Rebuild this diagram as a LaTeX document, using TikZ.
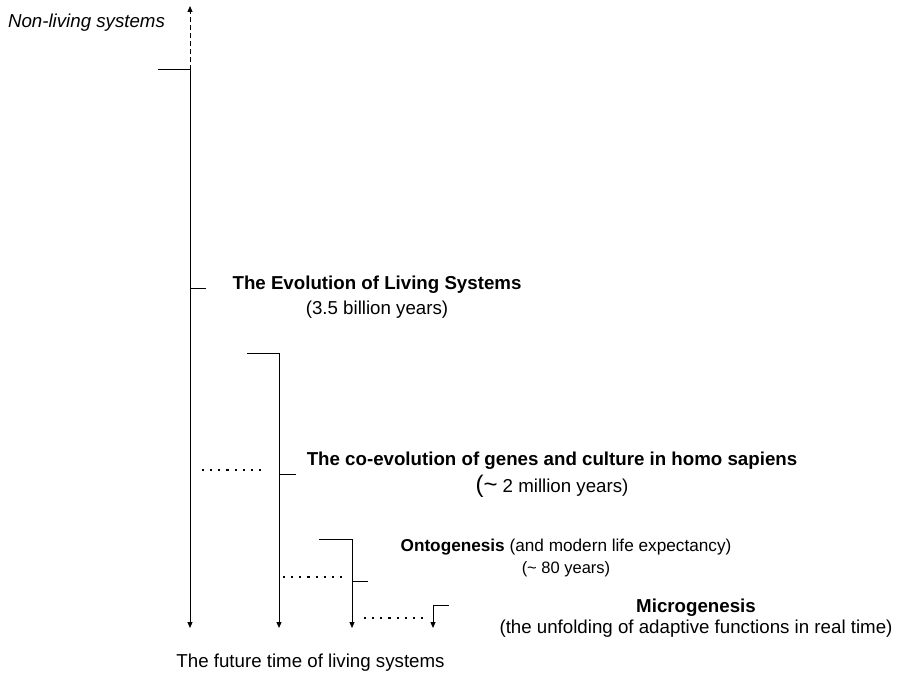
\documentclass[tikz,border=0pt]{standalone}
\usepackage{fontspec}
\setmainfont{Liberation Sans}
\usetikzlibrary{arrows.meta}

\begin{document}
\begin{tikzpicture}[x=1pt,y=-1pt,
  line width=1pt,
  txt/.style={align=center,inner sep=0pt,font=\fontsize{18.7}{25}\selectfont},
  timeline/.style={-{Triangle[length=6pt,width=5pt]}},
  dots/.style={line width=2.2pt,dash pattern=on 2.2pt off 5.94pt}
]
\useasboundingbox (0,0) rectangle (898,676);
% anchor points of the four time lines
\coordinate (past) at (190,6);
\coordinate (top1) at (190,70);
\coordinate (left1) at (158,70);
\coordinate (end1) at (190,628);
\coordinate (top2) at (279,354);
\coordinate (left2) at (247,354);
\coordinate (end2) at (279,628);
\coordinate (top3) at (352,540);
\coordinate (left3) at (319,540);
\coordinate (end3) at (352,628);
\coordinate (top4) at (433,605);
\coordinate (right4) at (449,605);
\coordinate (end4) at (433,628);
% labels
\node[txt,font=\fontsize{18.7}{25}\selectfont\itshape] (nonliving) at (86.5,23) {Non-living systems};
\node[txt] (evolution) at (377,297) {\textbf{The Evolution of Living Systems}\\(3.5 billion years)};
\node[txt] (coevolution) at (552,475) {\textbf{The co-evolution of genes and culture in homo sapiens}\\[2pt]{\fontsize{24}{25}\selectfont(\textasciitilde} 2 million years)};
\node[txt,font=\fontsize{17.2}{23}\selectfont] (ontogenesis) at (566,558) {\textbf{Ontogenesis} (and modern life expectancy)\\[-1pt]{\fontsize{16.5}{20}\selectfont(\textasciitilde\ 80 years)}};
\node[txt] (microgenesis) at (696,618) {\textbf{Microgenesis}\\[-4pt](the unfolding of adaptive functions in real time)};
\node[txt] (future) at (310.5,663) {The future time of living systems};
% ticks on the lines
\coordinate (tick1) at (190,289);
\coordinate (tick1r) at (206,289);
\coordinate (tick2) at (279,475);
\coordinate (tick2r) at (296,475);
\coordinate (tick3) at (352,581);
\coordinate (tick3r) at (368,581);
% lines
\draw[timeline,dash pattern=on 5pt off 3pt] (top1) -- (past);
\draw[timeline] (left1) -- (top1) -- (end1);
\draw[timeline] (left2) -- (top2) -- (end2);
\draw[timeline] (left3) -- (top3) -- (end3);
\draw[timeline] (right4) -- (top4) -- (end4);
\draw (tick1) -- (tick1r);
\draw (tick2) -- (tick2r);
\draw (tick3) -- (tick3r);
% dotted links
\coordinate (d1a) at (202,470); \coordinate (d1b) at (261.5,470);
\coordinate (d2a) at (283,577); \coordinate (d2b) at (342.5,577);
\coordinate (d3a) at (364,618); \coordinate (d3b) at (423.5,618);
\draw[dots] (d1a) -- (d1b);
\draw[dots] (d2a) -- (d2b);
\draw[dots] (d3a) -- (d3b);
\end{tikzpicture}
\end{document}
